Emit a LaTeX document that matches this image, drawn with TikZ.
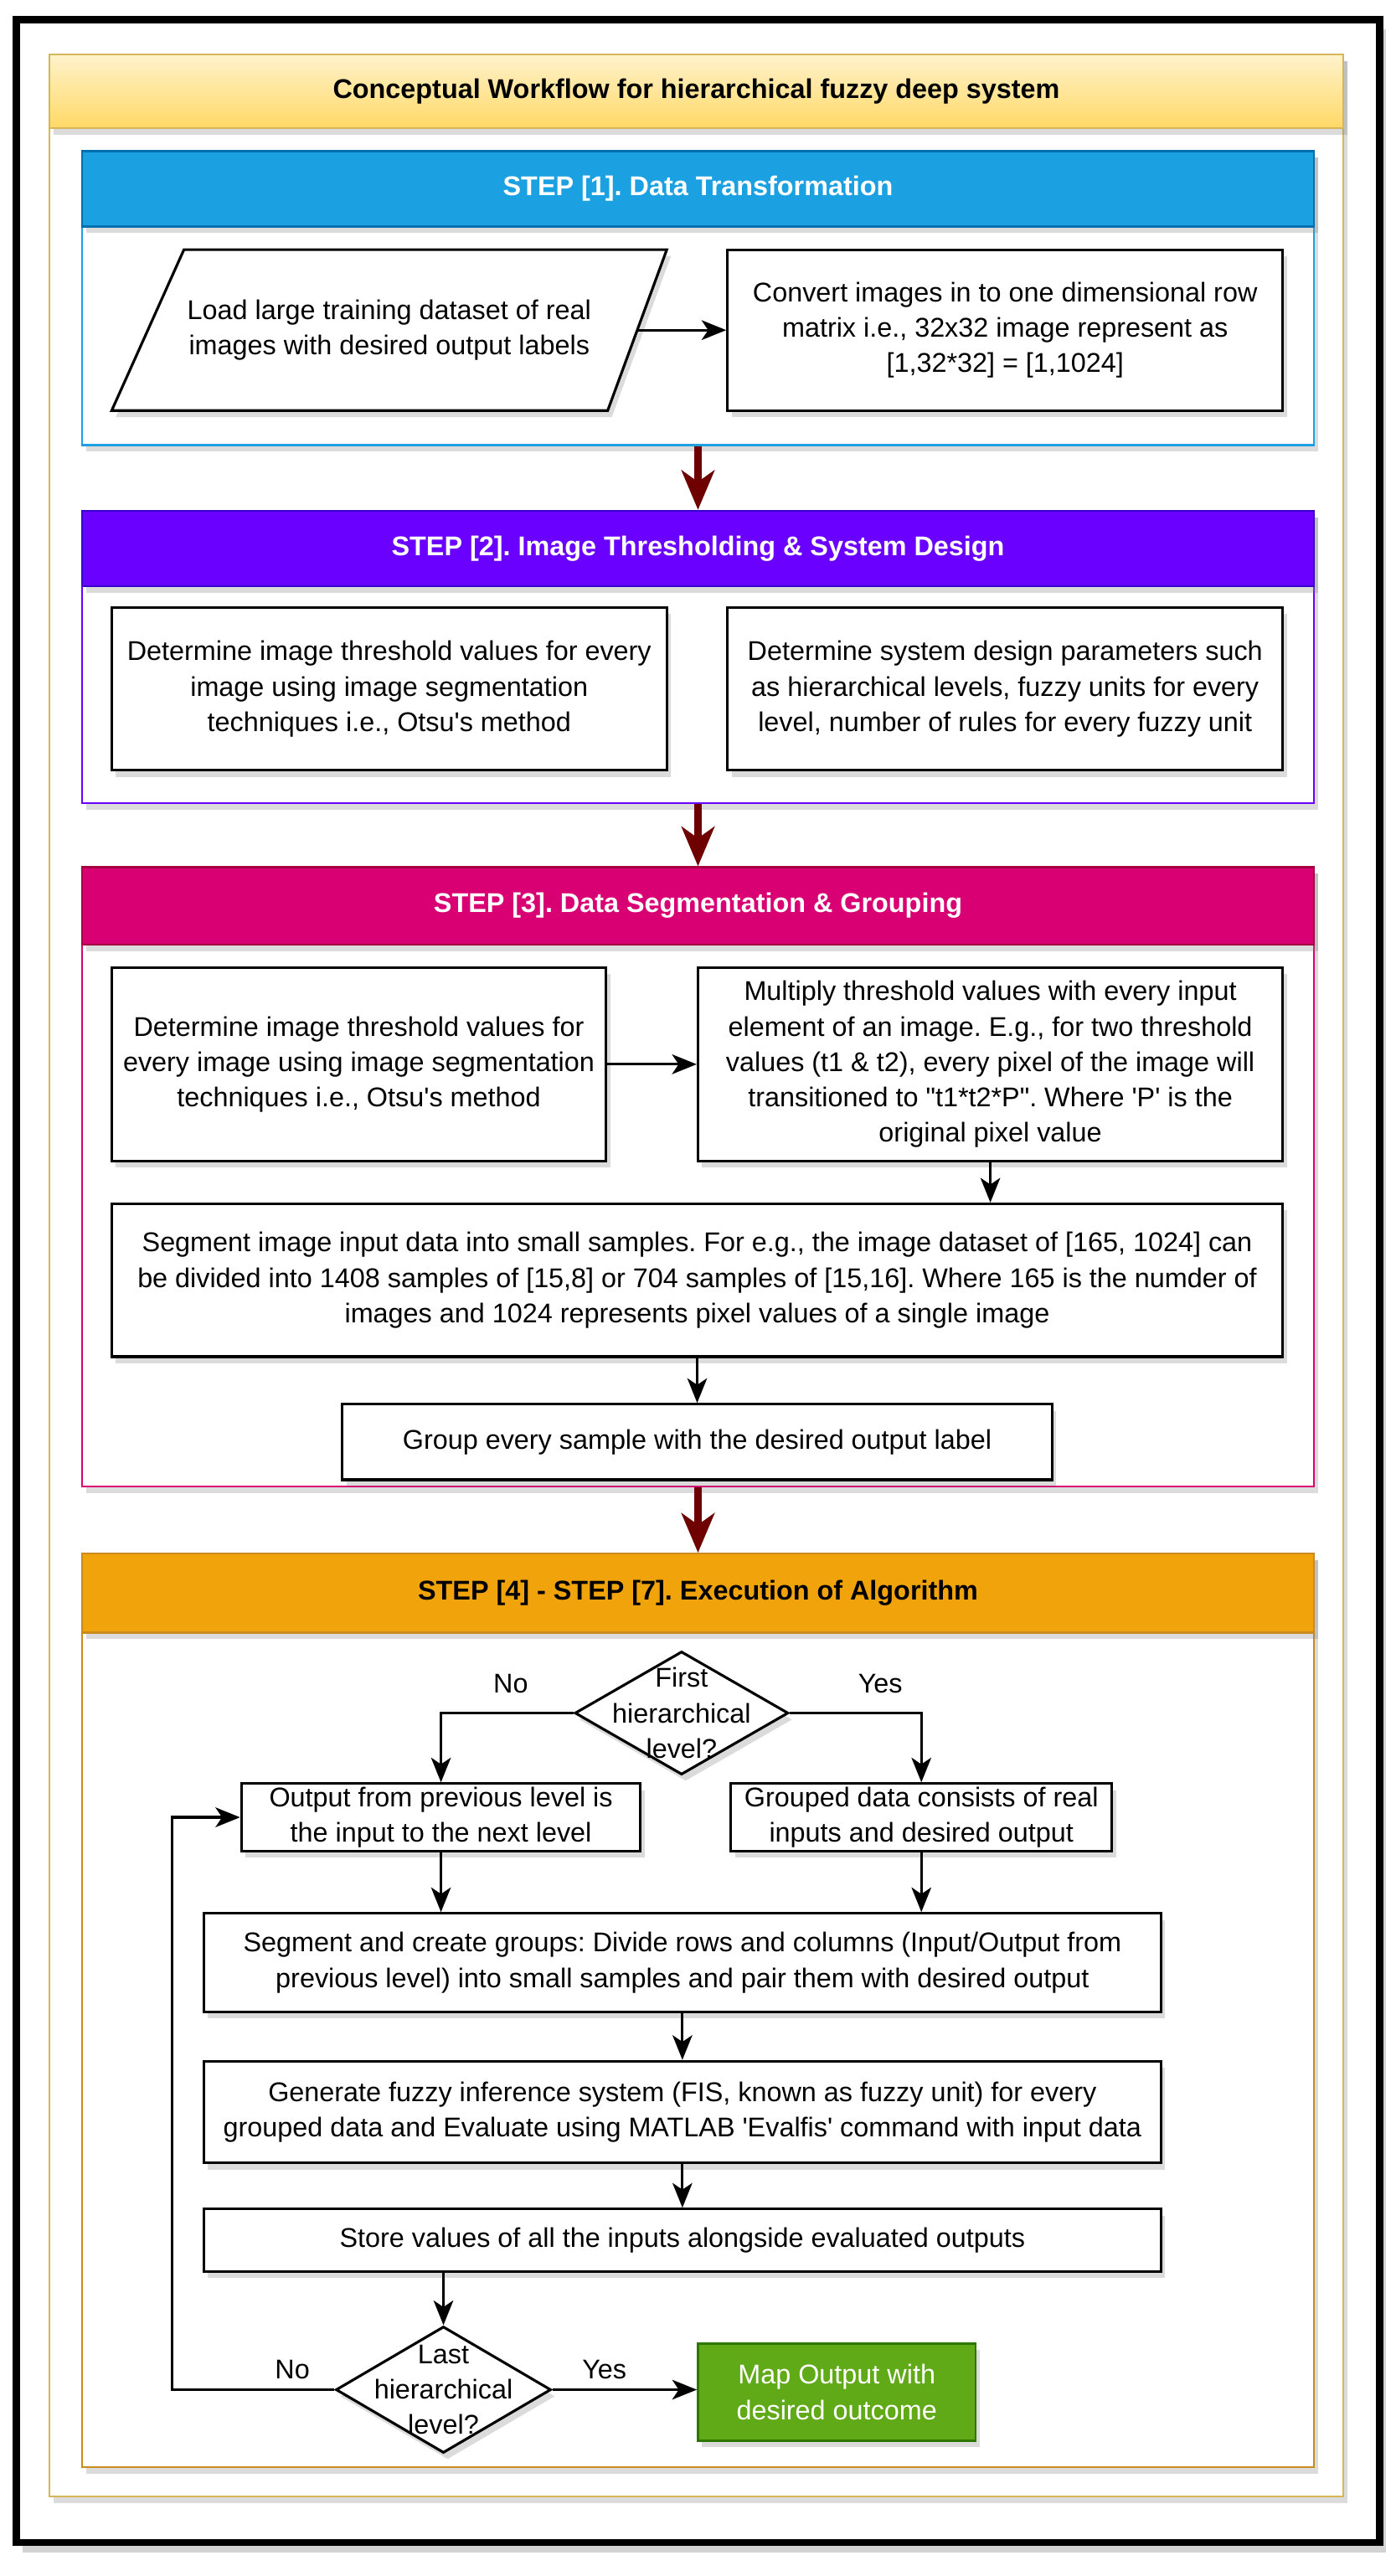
\documentclass[tikz,border=0pt]{standalone}
\usepackage{fontspec}
\setmainfont{Liberation Sans}[Ligatures=TeXOff]
\usetikzlibrary{arrows.meta,shapes.geometric,shadows}
\definecolor{sonefill}{HTML}{1BA1E2}\definecolor{soneline}{HTML}{006EAF}
\definecolor{stwofill}{HTML}{6A00FF}\definecolor{stwoline}{HTML}{3700CC}
\definecolor{sthreefill}{HTML}{D80073}\definecolor{sthreeline}{HTML}{A50040}
\definecolor{sfourfill}{HTML}{F0A30A}\definecolor{sfourline}{HTML}{C98A1E}
\definecolor{greenfill}{HTML}{60A917}\definecolor{greenline}{HTML}{2D7600}
\definecolor{titletop}{HTML}{FFF2CC}\definecolor{titlebot}{HTML}{FFD966}\definecolor{titleline}{HTML}{D6B656}
\definecolor{darkred}{HTML}{6F0000}
\frenchspacing
\begin{document}
\begin{tikzpicture}[x=1pt,y=-1pt,
  shad/.style={drop shadow={opacity=0.28,shadow xshift=2.5pt,shadow yshift=-4pt}},
  bodyfont/.style={font=\fontsize{16.5}{21.5}\selectfont},
  headfont/.style={font=\fontsize{16.5}{20}\selectfont\bfseries},
  box/.style={draw=black,line width=1.6pt,fill=white,shad,inner sep=0pt,align=center,bodyfont},
  cont/.style={draw=#1,line width=1.2pt,fill=white,shad,inner sep=0pt},
  head/.style={inner sep=0pt,shad,headfont,text=white,align=center},
  dia/.style={diamond,draw=black,line width=1.6pt,fill=white,shad,inner sep=0pt},
  txt/.style={inner sep=0pt,align=center,bodyfont},
  arr/.style={line width=1.6pt,-{Stealth[length=15pt,width=12pt,inset=4pt]}},
  bigarr/.style={line width=5pt,darkred,-{Stealth[length=24pt,width=20pt,inset=7pt]}},
  lab/.style={inner sep=0pt,bodyfont}]
\useasboundingbox (0,0) rectangle (850,1568.45);
\fill[white] (0,0) rectangle (850,1568.45);
% outer frame
\node[draw=black,line width=4.5pt,fill=white,drop shadow={opacity=0.35,shadow xshift=4pt,shadow yshift=-6pt},minimum width=830pt,minimum height=1536pt,inner sep=0pt] (frame) at (425,780) {};
% title container
\node[cont=titleline,minimum width=788pt,minimum height=1487pt] (tcont) at (424,776.5) {};
\node[draw=titleline,line width=1.2pt,top color=titletop,bottom color=titlebot,shad,minimum width=788pt,minimum height=45pt,inner sep=0pt,headfont] (title) at (424,55.5) {Conceptual Workflow for hierarchical fuzzy deep system};
% step containers
\node[cont=sonefill,minimum width=750pt,minimum height=179pt] (s1) at (425,181.5) {};
\node[head,fill=sonefill,draw=soneline,line width=1.2pt,minimum width=750pt,minimum height=46pt] (h1) at (425,115) {STEP [1]. Data Transformation};
\node[cont=stwofill,minimum width=750pt,minimum height=178pt] (s2) at (425,400) {};
\node[head,fill=stwofill,draw=stwoline,line width=1.2pt,minimum width=750pt,minimum height=46pt] (h2) at (425,334) {STEP [2]. Image Thresholding \& System Design};
\node[cont=sthreefill,minimum width=750pt,minimum height=377pt] (s3) at (425,716.5) {};
\node[head,fill=sthreefill,draw=sthreeline,line width=1.2pt,minimum width=750pt,minimum height=47pt] (h3) at (425,551.5) {STEP [3]. Data Segmentation \& Grouping};
\node[cont=sfourline,minimum width=750pt,minimum height=556pt] (s4) at (425,1224) {};
\node[head,fill=sfourfill,draw=sfourline,line width=1.2pt,minimum width=750pt,minimum height=48pt,text=black] (h4) at (425,970) {STEP [4] - STEP [7]. Execution of Algorithm};
% big arrows
\draw[bigarr] (s1.south) -- (h2.north);
\draw[bigarr] (s2.south) -- (h3.north);
\draw[bigarr] (s3.south) -- (h4.north);
% step 1
\path[draw=black,line width=1.6pt,fill=white,shad] (112,152) -- (406,152) -- (370,250) -- (68,250) -- cycle;
\node[txt] (p1) at (237,201) {Load large training dataset of real\\images with desired output labels};
\coordinate (p1e) at (388,201);
\node[box,minimum width=338pt,minimum height=98pt] (r1) at (612,201) {Convert images in to one dimensional row\\matrix i.e., 32x32 image represent as\\{[1,32*32] = [1,1024]}};
\draw[arr] (p1e) -- (r1.west);
% step 2
\node[box,minimum width=338pt,minimum height=99pt] (b2a) at (237,419.5) {Determine image threshold values for every\\image using image segmentation\\techniques i.e., Otsu's method};
\node[box,minimum width=338pt,minimum height=99pt] (b2b) at (612,419.5) {Determine system design parameters such\\as hierarchical levels, fuzzy units for every\\level, number of rules for every fuzzy unit};
% step 3
\node[box,minimum width=301pt,minimum height=118pt] (b3a) at (218.5,648) {Determine image threshold values for\\every image using image segmentation\\techniques i.e., Otsu's method};
\node[box,minimum width=356pt,minimum height=118pt] (b3b) at (603,648) {Multiply threshold values with every input\\element of an image. E.g., for two threshold\\values (t1 \& t2), every pixel of the image will\\transitioned to "t1*t2*P". Where 'P' is the\\original pixel value};
\node[box,minimum width=713pt,minimum height=93pt] (b3c) at (424.5,779.5) {Segment image input data into small samples. For e.g., the image dataset of [165, 1024] can\\be divided into 1408 samples of [15,8] or 704 samples of [15,16]. Where 165 is the numder of\\images and 1024 represents pixel values of a single image};
\node[box,minimum width=432pt,minimum height=46pt] (b3d) at (424.5,878) {Group every sample with the desired output label};
\draw[arr] (b3a.east) -- (b3b.west);
\draw[arr] (b3b.south) -- (b3b.south |- b3c.north);
\draw[arr] (b3c.south) -- (b3d.north);
% step 4
\node[dia,minimum width=130pt,minimum height=75pt] (d1) at (415,1043) {};
\node[txt] (d1t) at (d1) {First\\hierarchical\\level?};
\node[box,minimum width=243pt,minimum height=41pt] (b4a) at (268.5,1106.5) {Output from previous level is\\the input to the next level};
\node[box,minimum width=232pt,minimum height=41pt] (b4b) at (561,1106.5) {Grouped data consists of real\\inputs and desired output};
\node[box,minimum width=583pt,minimum height=60pt] (b4c) at (415.5,1195) {Segment and create groups: Divide rows and columns (Input/Output from\\previous level) into small samples and pair them with desired output};
\node[box,minimum width=583pt,minimum height=62pt] (b4d) at (415.5,1286) {Generate fuzzy inference system (FIS, known as fuzzy unit) for every\\grouped data and Evaluate using MATLAB 'Evalfis' command with input data};
\node[box,minimum width=583pt,minimum height=38pt] (b4e) at (415.5,1364) {Store values of all the inputs alongside evaluated outputs};
\node[dia,minimum width=131pt,minimum height=77pt] (d2) at (270,1455) {};
\node[txt] (d2t) at (d2) {Last\\hierarchical\\level?};
\node[draw=greenline,line width=1.4pt,fill=greenfill,shad,minimum width=169pt,minimum height=59pt,inner sep=0pt,align=center,bodyfont,text=white] (g) at (509.5,1456.5) {Map Output with\\desired outcome};
\coordinate (loop) at (105,1300);
\draw[arr] (d1.west) -| (b4a.north);
\draw[arr] (d1.east) -| (b4b.north);
\draw[arr] (b4a.south) -- (b4a.south |- b4c.north);
\draw[arr] (b4b.south) -- (b4b.south |- b4c.north);
\draw[arr] (b4c.south) -- (b4d.north);
\draw[arr] (b4d.south) -- (b4e.north);
\draw[arr] (d2.north |- b4e.south) -- (d2.north);
\draw[arr] (d2.west) -| (loop) |- (b4a.west);
\draw[arr] (d2.east) -- (d2.east -| g.west);
\node[lab] (no1) at (311,1025) {No};
\node[lab] (yes1) at (536,1025) {Yes};
\node[lab] (no2) at (178,1443) {No};
\node[lab] (yes2) at (368,1443) {Yes};
\end{tikzpicture}
\end{document}
